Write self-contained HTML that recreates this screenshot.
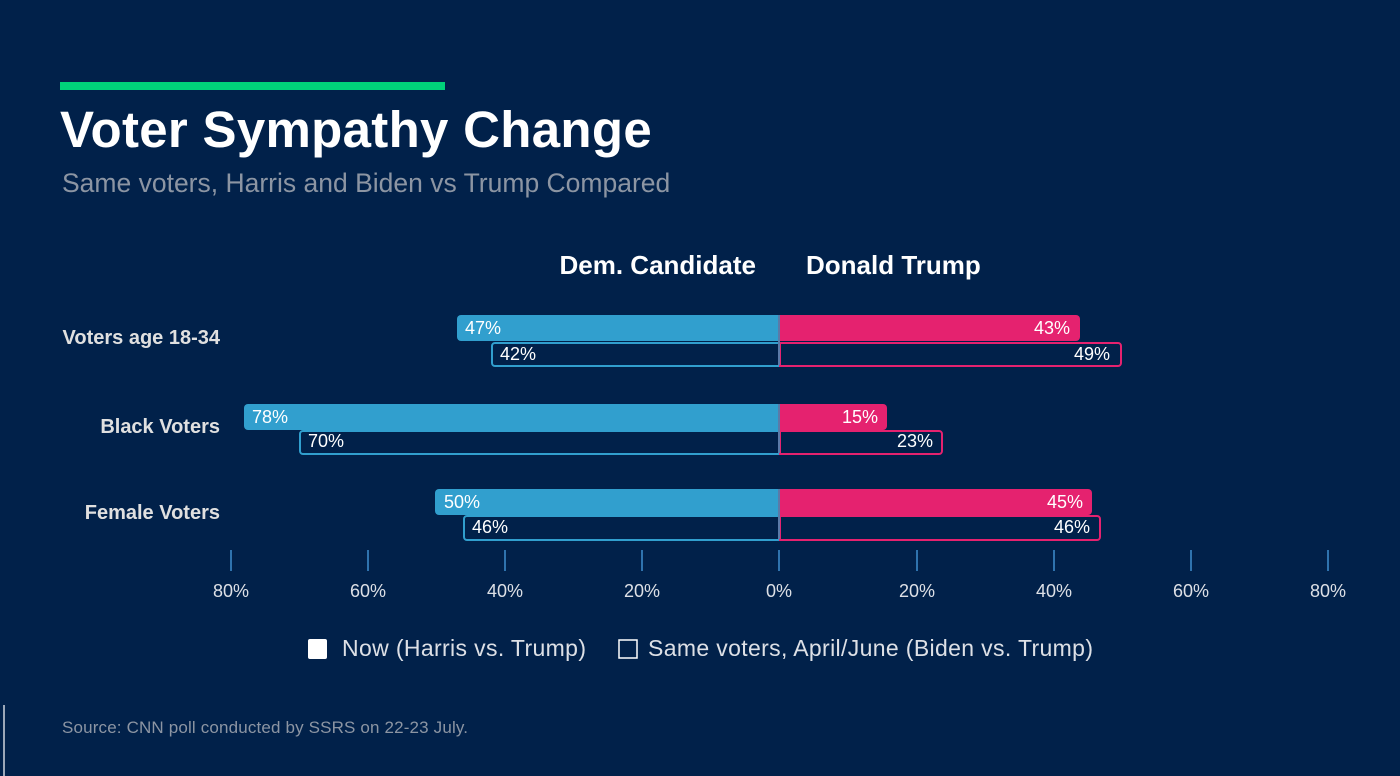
<!DOCTYPE html>
<html><head><style>
body{margin:0;width:1400px;height:776px;background:#01214a;font-family:"Liberation Sans",sans-serif;position:relative;overflow:hidden;color:#fff}
.a{position:absolute;white-space:nowrap}
.f{position:absolute;border-radius:4px}
.v{position:absolute;font-size:18px;color:#fff;line-height:24px}
</style></head><body>
<div class="a" style="left:60px;top:82px;width:385px;height:8px;background:#00d27a"></div>
<div class="a" style="left:60px;top:99px;font-size:51px;font-weight:bold;line-height:62px;letter-spacing:0.3px">Voter Sympathy Change</div>
<div class="a" style="left:62px;top:167px;font-size:26.5px;color:#8c95a3;line-height:32px">Same voters, Harris and Biden vs Trump Compared</div>
<div class="a" style="right:644px;top:249px;font-size:26px;font-weight:bold;line-height:32px">Dem. Candidate</div>
<div class="a" style="left:806px;top:249px;font-size:26px;font-weight:bold;line-height:32px">Donald Trump</div>

<div class="a" style="right:1180px;top:327px;font-size:20px;font-weight:bold;color:#e0e0e0">Voters age 18-34</div>
<div class="a" style="right:1180px;top:416px;font-size:20px;font-weight:bold;color:#e0e0e0">Black Voters</div>
<div class="a" style="right:1180px;top:502px;font-size:20px;font-weight:bold;color:#e0e0e0">Female Voters</div>

<!-- row1 -->
<div class="f" style="left:457px;top:315px;width:322px;height:26px;background:#319fce;border-radius:4px 0 0 4px"></div>
<div class="f" style="left:779px;top:315px;width:301px;height:26px;background:#e5226f;border-radius:0 4px 4px 0"></div>
<div class="f" style="left:491px;top:342px;width:286px;height:21px;border:2px solid #319fce;border-radius:4px 0 0 4px"></div>
<div class="f" style="left:779px;top:342px;width:339px;height:21px;border:2px solid #e5226f;border-radius:0 4px 4px 0"></div>
<div class="v" style="left:465px;top:316px">47%</div>
<div class="v" style="right:330px;top:316px">43%</div>
<div class="v" style="left:500px;top:342px">42%</div>
<div class="v" style="right:290px;top:342px">49%</div>
<!-- row2 -->
<div class="f" style="left:244px;top:404px;width:535px;height:26px;background:#319fce;border-radius:4px 0 0 4px"></div>
<div class="f" style="left:779px;top:404px;width:108px;height:26px;background:#e5226f;border-radius:0 4px 4px 0"></div>
<div class="f" style="left:299px;top:430px;width:478px;height:21px;border:2px solid #319fce;border-radius:4px 0 0 4px"></div>
<div class="f" style="left:779px;top:430px;width:160px;height:21px;border:2px solid #e5226f;border-radius:0 4px 4px 0"></div>
<div class="v" style="left:252px;top:405px">78%</div>
<div class="v" style="right:522px;top:405px">15%</div>
<div class="v" style="left:308px;top:429px">70%</div>
<div class="v" style="right:467px;top:429px">23%</div>
<!-- row3 -->
<div class="f" style="left:435px;top:489px;width:344px;height:26px;background:#319fce;border-radius:4px 0 0 4px"></div>
<div class="f" style="left:779px;top:489px;width:313px;height:26px;background:#e5226f;border-radius:0 4px 4px 0"></div>
<div class="f" style="left:463px;top:515px;width:314px;height:22px;border:2px solid #319fce;border-radius:4px 0 0 4px"></div>
<div class="f" style="left:779px;top:515px;width:318px;height:22px;border:2px solid #e5226f;border-radius:0 4px 4px 0"></div>
<div class="v" style="left:444px;top:490px">50%</div>
<div class="v" style="right:317px;top:490px">45%</div>
<div class="v" style="left:472px;top:515px">46%</div>
<div class="v" style="right:310px;top:515px">46%</div>
<div class="a" style="left:778px;top:315px;width:2px;height:50px;background:#5a7aa8"></div>
<div class="a" style="left:778px;top:404px;width:2px;height:49px;background:#5a7aa8"></div>
<div class="a" style="left:778px;top:489px;width:2px;height:50px;background:#5a7aa8"></div>

<svg class="a" style="left:0;top:0" width="1400" height="776">
<g stroke="#3f8fd0" stroke-width="1.5">
<line x1="231" y1="550" x2="231" y2="571"/><line x1="368" y1="550" x2="368" y2="571"/><line x1="505" y1="550" x2="505" y2="571"/><line x1="642" y1="550" x2="642" y2="571"/><line x1="779" y1="550" x2="779" y2="571"/><line x1="917" y1="550" x2="917" y2="571"/><line x1="1054" y1="550" x2="1054" y2="571"/><line x1="1191" y1="550" x2="1191" y2="571"/><line x1="1328" y1="550" x2="1328" y2="571"/>
</g>
<g fill="#dde0e6" font-family="Liberation Sans, sans-serif" font-size="18" text-anchor="middle">
<text x="231" y="597">80%</text><text x="368" y="597">60%</text><text x="505" y="597">40%</text><text x="642" y="597">20%</text><text x="779" y="597">0%</text><text x="917" y="597">20%</text><text x="1054" y="597">40%</text><text x="1191" y="597">60%</text><text x="1328" y="597">80%</text>
</g>
<rect x="308" y="639" width="19" height="20" rx="2" fill="#fff"/>
<rect x="619" y="640" width="18" height="18" fill="none" stroke="#fff" stroke-width="1.5"/>
<g fill="#dde0e6" font-family="Liberation Sans, sans-serif" font-size="23">
<text x="342" y="656" textLength="244">Now (Harris vs. Trump)</text>
<text x="648" y="656" textLength="445">Same voters, April/June (Biden vs. Trump)</text>
</g>
<line x1="4" y1="705" x2="4" y2="776" stroke="#cfd4dc" stroke-width="1.5"/>
<text x="62" y="733" fill="#8c95a3" font-family="Liberation Sans, sans-serif" font-size="17" textLength="406">Source: CNN poll conducted by SSRS on 22-23 July.</text>
</svg>
</body></html>
